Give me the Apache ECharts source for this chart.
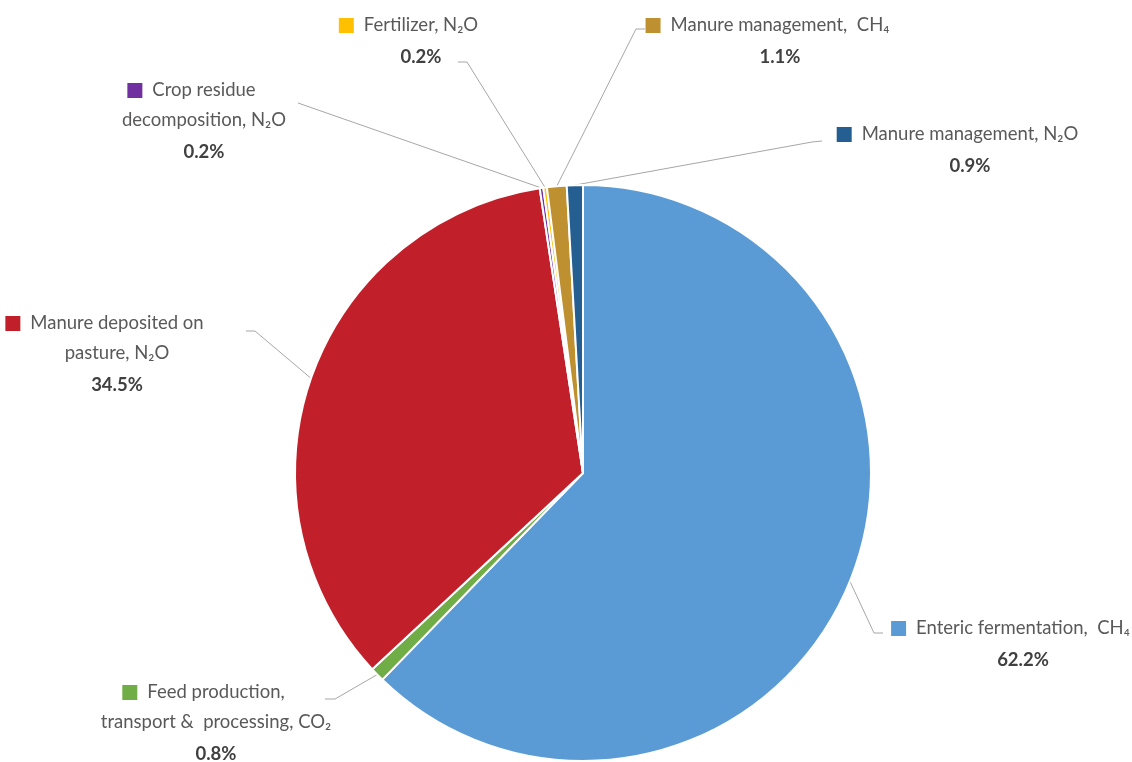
<!DOCTYPE html>
<html>
<head>
<meta charset="utf-8">
<script src="https://cdn.jsdelivr.net/npm/echarts@6/dist/echarts.min.js"></script>
<style>html,body{margin:0;padding:0;background:#fff;}#c{width:1132px;height:762px;}</style>
</head>
<body>
<div id="c"></div>
<script>
// ---- data ----
var categories = [
  'Enteric fermentation,  CH₄',
  'Feed production,\ntransport &  processing, CO₂',
  'Manure deposited on\npasture, N₂O',
  'Crop residue\ndecomposition, N₂O',
  'Fertilizer, N₂O',
  'Manure management,  CH₄',
  'Manure management, N₂O'
];
var shares = [62.2, 0.8, 34.5, 0.2, 0.2, 1.1, 0.9];
var colors = ['#5b9bd5', '#70ad47', '#c1202a', '#7030a0', '#ffc000', '#bf902f', '#255e91'];

// ---- label placement (layout only) ----
var labelPos = [
  {x: 1023, y: 645, bend: [[874, 633], [883, 633]]},
  {x: 216, y: 724, bend: [[335, 699], [325, 699]]},
  {x: 117, y: 355, bend: [[255, 331], [246, 331]]},
  {x: 204, y: 122, bend: [[298, 103]]},
  {x: 421, y: 42, bend: [[467, 62], [458, 62]]},
  {x: 780, y: 42, bend: [[636, 29], [645, 29]]},
  {x: 970, y: 151, bend: [[812, 142], [822, 141]]}
];

var chart = echarts.init(document.getElementById('c'));
var data = categories.map(function (n, i) {
  return {
    name: n, value: shares[i],
    itemStyle: {color: colors[i]},
    label: {
      overflow: 'none',
      rich: {
        sq: {width: 15, height: 15, backgroundColor: colors[i]},
        gap: {width: 10},
        pad: {width: 25},
        t: {fontFamily: 'Lato', fontSize: 18.5, color: '#595959', lineHeight: 30},
        b: {fontFamily: 'Lato', fontSize: 18.5, fontWeight: 'bold', color: '#404040', lineHeight: 33}
      }
    }
  };
});

chart.setOption({
  animation: false,
  series: [{
    type: 'pie',
    center: [583, 473],
    radius: [0, 288],
    startAngle: 90,
    clockwise: true,
    data: data,
    itemStyle: {borderColor: '#ffffff', borderWidth: 2},
    label: {
      show: true,
      position: 'outside',
      align: 'center',
      overflow: 'none',
      edgeDistance: 0,
      formatter: function (p) {
        var lines = p.name.split('\n');
        var out = '{sq|}{gap|}{t|' + lines[0] + '}{pad|}';
        for (var k = 1; k < lines.length; k++) out += '\n{t|' + lines[k] + '}';
        out += '\n{b|' + p.value.toFixed(1) + '%}';
        return out;
      }
    },
    labelLine: {show: true, lineStyle: {color: '#a6a6a6', width: 1}},
    labelLayout: function (params) {
      var lp = labelPos[params.dataIndex];
      var pts = null;
      if (params.labelLinePoints && params.labelLinePoints[0]) {
        pts = [params.labelLinePoints[0].slice()].concat(lp.bend);
      }
      var r = {x: lp.x, y: lp.y, align: 'center', verticalAlign: 'middle'};
      if (pts) r.labelLinePoints = pts;
      return r;
    }
  }]
});
</script>
</body>
</html>
